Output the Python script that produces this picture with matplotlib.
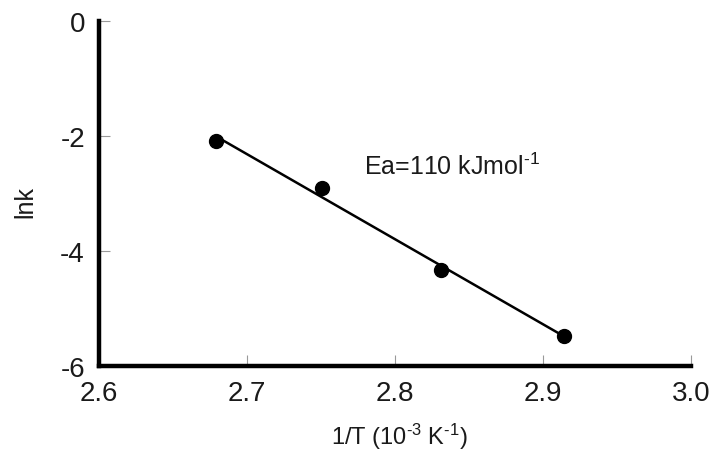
import numpy as np
import matplotlib
matplotlib.use("Agg")
import matplotlib.pyplot as plt

plt.rcParams['font.family'] = ['Liberation Sans', 'DejaVu Sans']
plt.rcParams['axes.unicode_minus'] = False
plt.rcParams['mathtext.default'] = 'regular'

inv_T = np.array([2.679, 2.751, 2.831, 2.914])
ln_k = np.array([-2.09, -2.90, -4.33, -5.48])
x_ticks = [2.6, 2.7, 2.8, 2.9, 3.0]
x_ticklabels = ['2.6', '2.7', '2.8', '2.9', '3.0']
y_ticks = [0, -2, -4, -6]
y_ticklabels = ['0', '-2', '-4', '-6']

fig = plt.figure(figsize=(7.16, 4.52), dpi=100)
ax = fig.add_axes([0.138, 0.188, 0.827, 0.763])

slope, intercept = np.polyfit(inv_T, ln_k, 1)
xf = np.array([inv_T.min(), inv_T.max()])
ax.plot(xf, slope * xf + intercept, color='black', lw=1.8, zorder=2)
ax.plot(inv_T, ln_k, 'o', color='black', ms=10, zorder=3, clip_on=False)

ax.set_xlim(2.6, 3.0)
ax.set_ylim(-6, 0)
ax.set_xticks(x_ticks)
ax.set_xticklabels(x_ticklabels)
ax.set_yticks(y_ticks)
ax.set_yticklabels(y_ticklabels)

for s in ['top', 'right']:
    ax.spines[s].set_visible(False)
for s in ['left', 'bottom']:
    ax.spines[s].set_linewidth(3.2)
    ax.spines[s].set_color('black')

ax.tick_params(direction='in', length=8, width=0.8, color='#999999',
               labelsize=20, labelcolor='#1a1a1a')
ax.tick_params(axis='x', pad=10)
ax.tick_params(axis='y', pad=10)

hy = '\u2010'
ax.set_xlabel('1/T (10$^{' + hy + '3}$ K$^{' + hy + '1}$)', fontsize=17,
              color='#1a1a1a', va='center')
ax.xaxis.set_label_coords(0.508, -0.203)
ax.set_ylabel('lnk', fontsize=18, color='#1a1a1a', va='center')
ax.yaxis.set_label_coords(-0.124, 0.478)

ax.text(2.779, -2.52, 'Ea=110 kJmol$^{' + hy + '1}$', fontsize=18,
        color='#1a1a1a', ha='left', va='center')

fig.savefig('out.png', dpi=100)
